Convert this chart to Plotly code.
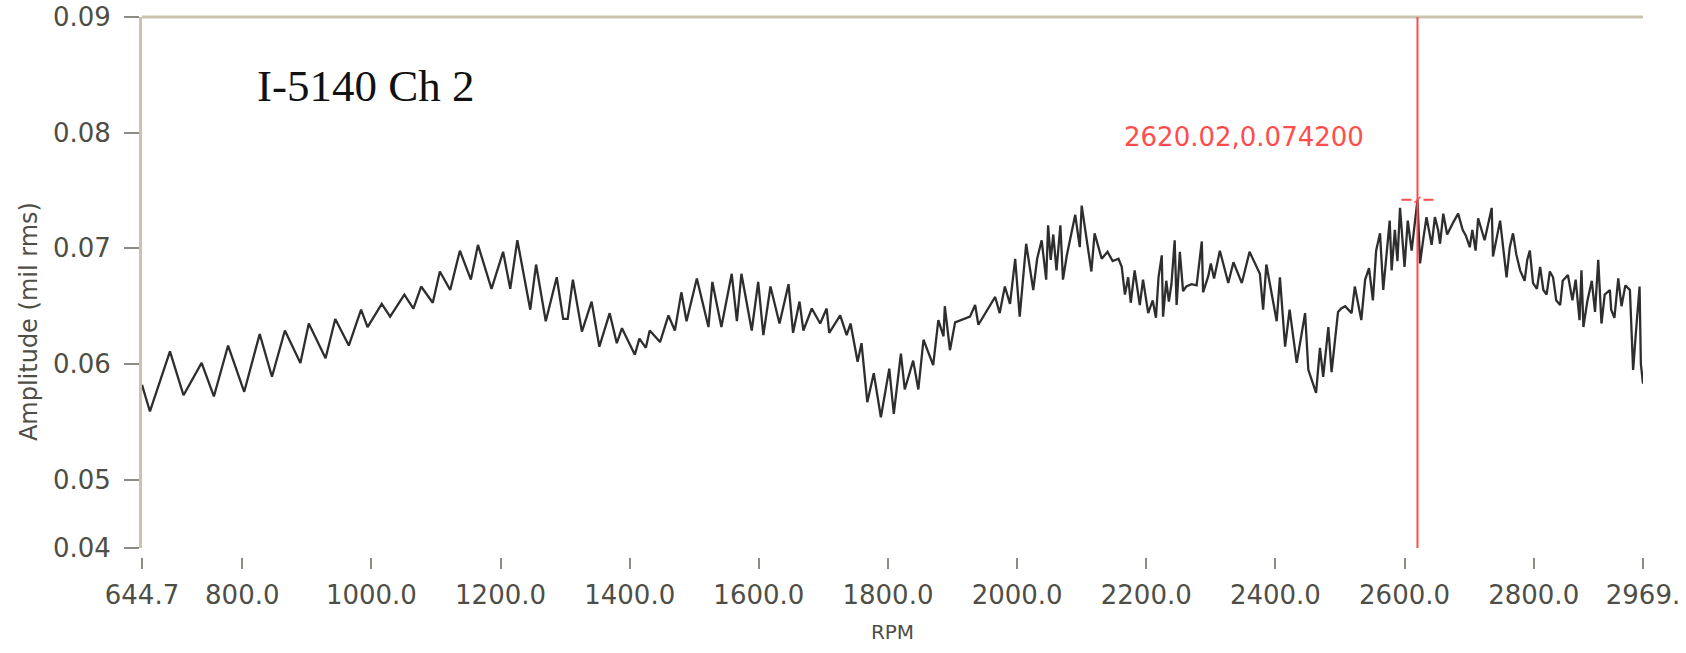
import plotly.graph_objects as go

# Amplitude vs. speed trace, channel 2
rpm = [
    644.7, 657, 688, 709, 737, 756, 778, 803, 827, 846, 866, 890, 903, 929, 944, 965,
    984, 994, 1016, 1029, 1051, 1065, 1077, 1095, 1106, 1122, 1137, 1154, 1165, 1186,
    1204, 1215, 1226, 1246, 1255, 1270, 1287, 1297, 1304, 1312, 1326, 1341, 1353, 1369,
    1380, 1388, 1408, 1415, 1425, 1431, 1447, 1460, 1470, 1480, 1488, 1504, 1522, 1528,
    1542, 1558, 1566, 1573, 1589, 1599, 1607, 1618, 1632, 1646, 1653, 1663, 1669, 1682,
    1695, 1705, 1709, 1726, 1736, 1742, 1753, 1759, 1768, 1778, 1789, 1802, 1809, 1820,
    1826, 1839, 1847, 1855, 1870, 1878, 1886, 1888, 1896, 1904, 1927, 1935, 1940, 1966,
    1973, 1981, 1989, 1997, 2004, 2014,
    2025, 2031, 2038, 2045, 2048, 2052, 2056, 2061, 2067, 2071, 2077, 2090, 2097, 2100,
    2115, 2120, 2131, 2140, 2148, 2157, 2162, 2167, 2172, 2176, 2182, 2190, 2195, 2203,
    2210, 2215, 2219, 2224, 2226, 2231, 2235, 2239, 2244, 2247, 2252, 2257, 2262, 2270,
    2278, 2286, 2288, 2296, 2300, 2305, 2314, 2327, 2335, 2348, 2360, 2376, 2381, 2386,
    2402, 2407, 2415, 2422, 2433, 2446, 2451, 2463, 2469, 2474, 2482, 2487, 2497, 2502,
    2508, 2518, 2523, 2533, 2539, 2545, 2551, 2556, 2562, 2567, 2577, 2580, 2585, 2589,
    2593, 2600, 2605, 2611, 2620.02, 2624, 2629, 2634, 2642, 2647, 2652, 2655, 2660, 2666,
    2675, 2683, 2690, 2695, 2701, 2705, 2710, 2714, 2724, 2735, 2737, 2748, 2758, 2763,
    2768, 2773, 2779, 2786, 2790, 2794, 2799, 2805, 2810, 2815, 2820, 2825, 2830, 2835,
    2841, 2845, 2853, 2860, 2865, 2871, 2874, 2877, 2883, 2890, 2895, 2900, 2905, 2910,
    2918, 2920, 2925, 2931, 2936, 2942, 2949, 2954, 2958, 2961, 2964, 2966, 2969.3,
]
amplitude = [
    0.0582, 0.0559, 0.0611, 0.0573, 0.0601, 0.0572, 0.0616, 0.0576, 0.0626, 0.0589, 0.0629,
    0.0601, 0.0635, 0.0605, 0.0639, 0.0616, 0.0647, 0.0632, 0.0652, 0.0641, 0.0660, 0.0648,
    0.0667, 0.0653, 0.0680, 0.0664, 0.0698, 0.0673, 0.0703, 0.0665, 0.0697, 0.0665, 0.0707,
    0.0647, 0.0686, 0.0637, 0.0675, 0.0639, 0.0639, 0.0673, 0.0628, 0.0654, 0.0615, 0.0644,
    0.0618, 0.0631, 0.0608, 0.0622, 0.0614, 0.0629, 0.0619, 0.0642, 0.0629, 0.0662, 0.0637,
    0.0674, 0.0632, 0.0671, 0.0632, 0.0678, 0.0637, 0.0678, 0.0629, 0.0671, 0.0625, 0.0667,
    0.0635, 0.0669, 0.0627, 0.0654, 0.0629, 0.0648, 0.0635, 0.0648, 0.0627, 0.0642, 0.0625,
    0.0635, 0.0602, 0.0618, 0.0567, 0.0592, 0.0554, 0.0596, 0.0557, 0.0609, 0.0578, 0.0603,
    0.0578, 0.0621, 0.0599, 0.0638, 0.0624, 0.0650, 0.0612, 0.0636, 0.0641, 0.0651, 0.0634,
    0.0658, 0.0644, 0.0667, 0.0652, 0.0691, 0.0641, 0.0704,
    0.0664, 0.0691, 0.0707, 0.0673, 0.0720, 0.0690, 0.0712, 0.0681, 0.0720, 0.0673, 0.0694,
    0.0729, 0.0701, 0.0737, 0.0680, 0.0713, 0.0691, 0.0697, 0.0689, 0.0691, 0.0684, 0.0660,
    0.0675, 0.0653, 0.0681, 0.0651, 0.0673, 0.0644, 0.0655, 0.0640, 0.0675, 0.0694, 0.0641,
    0.0672, 0.0654, 0.0669, 0.0707, 0.0651, 0.0697, 0.0663, 0.0667, 0.0669, 0.0668, 0.0706,
    0.0662, 0.0676, 0.0687, 0.0674, 0.0698, 0.0670, 0.0688, 0.0670, 0.0697, 0.0678, 0.0647,
    0.0686, 0.0637, 0.0675, 0.0615, 0.0647, 0.0601, 0.0644, 0.0595, 0.0575, 0.0614, 0.0589,
    0.0632, 0.0593, 0.0645, 0.0648, 0.0650, 0.0644, 0.0667, 0.0638, 0.0673, 0.0683, 0.0655,
    0.0698, 0.0713, 0.0664, 0.0724, 0.0681, 0.0716, 0.0689, 0.0735, 0.0684, 0.0724, 0.0698,
    0.0742, 0.0687, 0.0708, 0.0727, 0.0703, 0.0727, 0.0716, 0.0704, 0.0730, 0.0712, 0.0722,
    0.0730, 0.0716, 0.0711, 0.0701, 0.0716, 0.0698, 0.0726, 0.0707, 0.0735, 0.0693, 0.0724,
    0.0675, 0.0701, 0.0713, 0.0695, 0.0681, 0.0672, 0.0690, 0.0698, 0.0670, 0.0665, 0.0684,
    0.0664, 0.0660, 0.0680, 0.0675, 0.0655, 0.0651, 0.0672, 0.0677, 0.0655, 0.0673, 0.0638,
    0.0681, 0.0632, 0.0654, 0.0672, 0.0645, 0.0690, 0.0635, 0.0660, 0.0664, 0.0647, 0.0640,
    0.0674, 0.0650, 0.0668, 0.0664, 0.0595, 0.0625, 0.0650, 0.0667, 0.0600, 0.0583,
]

# Scale ends and labelled tick positions
x_min, x_max = 644.7, 2969.3
y_min, y_max = 0.0441, 0.09
x_tick_vals = [644.7, 800, 1000, 1200, 1400, 1600, 1800, 2000, 2200, 2400, 2600, 2800, 2969.3]
x_tick_text = ["644.7", "800.0", "1000.0", "1200.0", "1400.0", "1600.0", "1800.0",
               "2000.0", "2200.0", "2400.0", "2600.0", "2800.0", "2969."]
y_tick_vals = [0.0441, 0.05, 0.06, 0.07, 0.08, 0.09]
y_tick_text = ["0.04", "0.05", "0.06", "0.07", "0.08", "0.09"]

# Cursor readout
cursor_rpm = 2620.02
cursor_amp = 0.0742

frame_color = "#c9c3b0"
tick_color = "#8c8c84"
label_color = "#4e4e46"
cursor_color = "#ff4d4d"
tick_font = dict(family="DejaVu Sans", size=26, color=label_color)

fig = go.Figure()
fig.add_trace(go.Scatter(
    x=rpm, y=amplitude, mode="lines",
    line=dict(color="#2e2e2e", width=2.3),
    showlegend=False, hoverinfo="skip",
))

fig.update_layout(
    width=1686, height=653,
    margin=dict(l=142, r=43, t=17, b=96),
    paper_bgcolor="white", plot_bgcolor="white",
    xaxis=dict(
        range=[x_min, x_max], anchor="free", position=0, automargin=False,
        tickmode="array", tickvals=x_tick_vals, ticktext=x_tick_text,
        ticks="outside", ticklen=11, tickwidth=2, tickcolor=tick_color,
        showline=False, showgrid=False, zeroline=False,
        tickfont=tick_font, ticklabelstandoff=4,
        title=dict(text="RPM", font=dict(family="DejaVu Sans", size=20, color=label_color),
                   standoff=15),
    ),
    yaxis=dict(
        range=[y_min, y_max], domain=[0.0167, 1], automargin=False,
        tickmode="array", tickvals=y_tick_vals, ticktext=y_tick_text,
        ticks="outside", ticklen=15, tickwidth=2, tickcolor=tick_color,
        showline=True, linecolor=frame_color, linewidth=3,
        showgrid=False, zeroline=False,
        tickfont=tick_font, ticklabelstandoff=8,
    ),
)

# Top frame edge
fig.add_shape(type="line", xref="x domain", yref="y domain", x0=0, x1=1.0, y0=1, y1=1,
              line=dict(color=frame_color, width=3), layer="below")

# Cursor: vertical line through the full plot height plus crosshair marks
fig.add_shape(type="line", xref="x", yref="y domain", x0=cursor_rpm, x1=cursor_rpm, y0=0, y1=1,
              line=dict(color=cursor_color, width=2))
for dx0, dx1 in [(-16, -6), (6, 16)]:
    fig.add_shape(type="line", xref="x", yref="y", xsizemode="pixel", xanchor=cursor_rpm,
                  x0=dx0, x1=dx1, y0=cursor_amp, y1=cursor_amp,
                  line=dict(color=cursor_color, width=2))
fig.add_shape(type="line", xref="x", yref="y", xsizemode="pixel", ysizemode="pixel",
              xanchor=cursor_rpm, yanchor=cursor_amp, x0=-3, x1=3, y0=-3, y1=3,
              line=dict(color=cursor_color, width=1.5))

fig.add_annotation(
    x=cursor_rpm, y=cursor_amp, xref="x", yref="y",
    text=f"{cursor_rpm:.2f},{cursor_amp:.6f}", showarrow=False,
    xanchor="right", yanchor="middle", xshift=-51, yshift=63,
    font=dict(family="DejaVu Sans", size=26, color=cursor_color),
)

fig.add_annotation(
    x=0.0753, y=0.872, xref="paper", yref="paper",
    text="I-5140 Ch 2", showarrow=False, xanchor="left", yanchor="middle",
    font=dict(family="Liberation Serif", size=45, color="#111111"),
)

fig.add_annotation(
    x=0, y=0.435, xref="paper", yref="paper", xshift=-113,
    text="Amplitude (mil rms)", textangle=-90, showarrow=False,
    xanchor="center", yanchor="middle",
    font=dict(family="DejaVu Sans", size=24, color=label_color),
)

fig.write_html("out.html")
